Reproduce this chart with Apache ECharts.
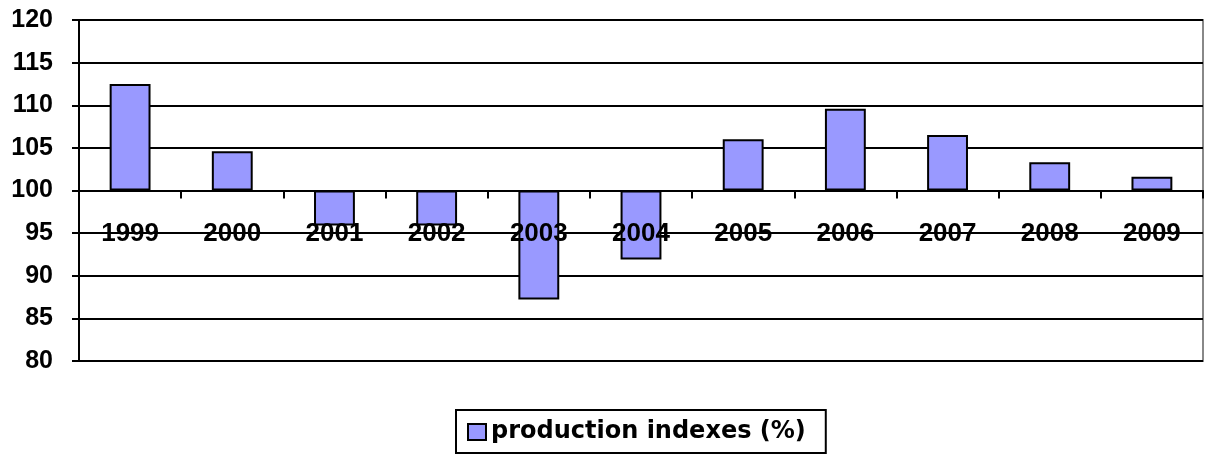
<!DOCTYPE html>
<html>
<head>
<meta charset="utf-8">
<script src="https://cdn.jsdelivr.net/npm/echarts@6/dist/echarts.min.js"></script>
<style>html,body{margin:0;padding:0;background:#fff}#c{width:1205px;height:454px}</style>
</head>
<body>
<div id="c"></div>
<script>
const categories = ['1999','2000','2001','2002','2003','2004','2005','2006','2007','2008','2009'];
const productionIndexes = [112.5, 104.6, 95.9, 95.9, 87.2, 91.9, 106.0, 109.6, 106.5, 103.3, 101.6];
const seriesName = 'production indexes (%)';
const baseValue = 100;
const yMin = 80, yMax = 120, yStep = 5;

const font = '"Liberation Sans", Arial, sans-serif';
const gridTop = 20, gridBottom = 93, chartH = 454;
const gridH = chartH - gridTop - gridBottom;
// move the category axis up to the base value line
const xAxisOffset = -gridH * (baseValue - yMin) / (yMax - yMin);

const chart = echarts.init(document.getElementById('c'), null, {renderer: 'canvas'});
chart.setOption({
  animation: false,
  grid: {left: 79, right: 2, top: gridTop, bottom: gridBottom, show: true, borderColor: '#888', borderWidth: 2, backgroundColor: 'transparent'},
  xAxis: {
    type: 'category',
    data: categories,
    offset: xAxisOffset,
    z: 5,
    axisLine: {onZero: false, lineStyle: {color: '#000', width: 2}},
    axisTick: {show: true, length: 8, lineStyle: {color: '#000', width: 2}},
    axisLabel: {color: '#000', fontWeight: 'bold', fontSize: 26, fontFamily: font, margin: 30, interval: 0},
    splitLine: {show: false}
  },
  yAxis: {
    type: 'value',
    min: yMin - baseValue, max: yMax - baseValue, interval: yStep,
    axisLine: {show: true, lineStyle: {color: '#000', width: 2}},
    axisTick: {show: true, length: 7, lineStyle: {color: '#000', width: 2}},
    axisLabel: {color: '#000', fontWeight: 'bold', fontSize: 25, fontFamily: font, margin: 26,
      formatter: v => String(v + baseValue)},
    splitLine: {show: true, lineStyle: {color: '#000', width: 2}}
  },
  legend: {
    bottom: 1, left: 456,
    data: [seriesName],
    icon: 'rect', itemWidth: 18, itemHeight: 16, itemGap: 6,
    borderColor: '#000', borderWidth: 2, padding: [10, 20, 9, 11],
    textStyle: {color: '#000', fontWeight: 'bold', fontSize: 24, fontFamily: '"DejaVu Sans", sans-serif'}
  },
  series: [{
    name: seriesName,
    type: 'bar',
    barWidth: '40%',
    z: 2,
    data: productionIndexes.map(v => +(v - baseValue).toFixed(2)),
    itemStyle: {color: '#9999ff', borderColor: '#000', borderWidth: 2}
  }]
});
</script>
</body>
</html>
